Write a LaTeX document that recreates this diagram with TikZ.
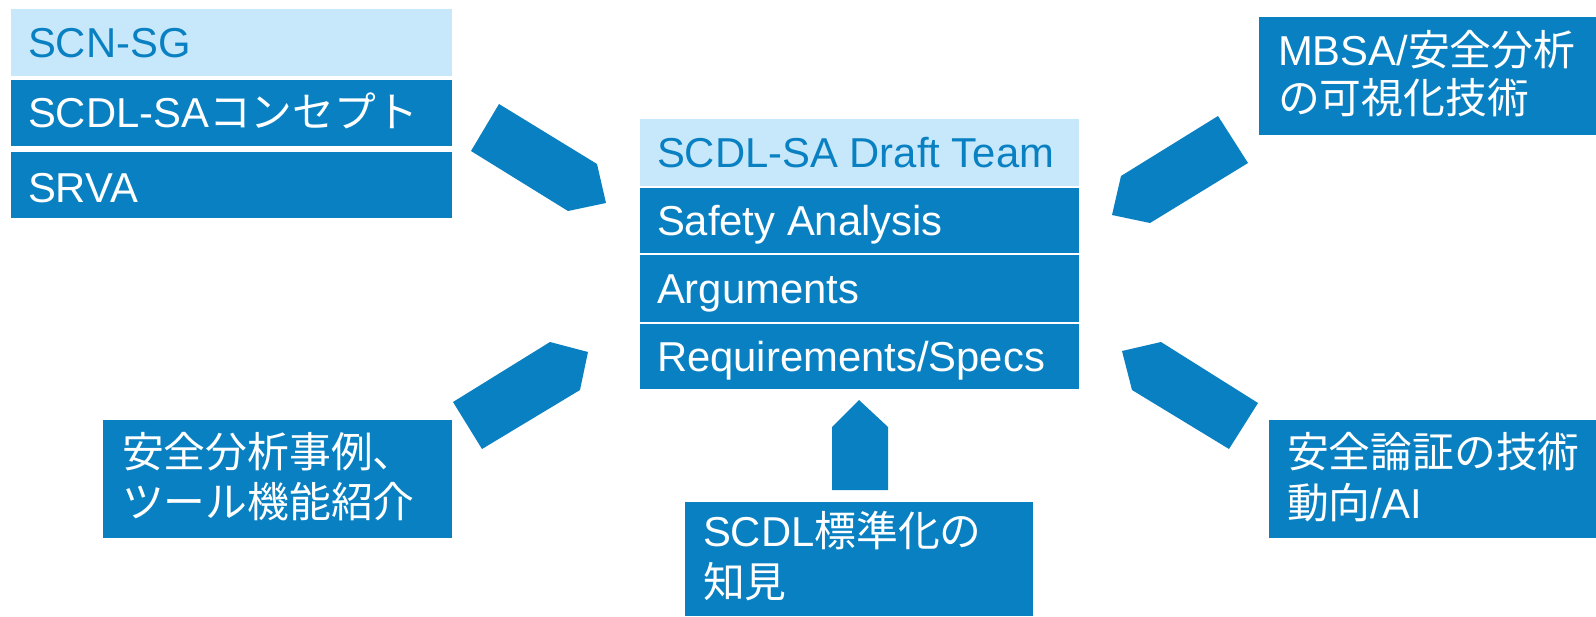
\documentclass[tikz,border=0pt]{standalone}
\usepackage{fontspec}
\setmainfont{Liberation Sans}
\newfontfamily\jp{Noto Sans CJK JP}
\definecolor{dblue}{RGB}{8,128,194}
\definecolor{lblue}{RGB}{198,232,250}
\begin{document}
\begin{tikzpicture}[x=1pt,y=-1pt,
  every node/.style={inner sep=0pt, outer sep=0pt},
  bar/.style={fill=dblue, anchor=north west},
  head/.style={fill=lblue, anchor=north west},
  txt/.style={anchor=base west, font=\fontsize{41.8}{50}\selectfont, text=white},
  htxt/.style={txt, text=dblue},
  blockarrow/.style={fill=dblue}]
\useasboundingbox (0,0) rectangle (1596,616);

% left stack
\node[head, minimum width=441pt, minimum height=67pt] (l1) at (11,9) {};
\node[bar,  minimum width=441pt, minimum height=66pt] (l2) at (11,80) {};
\node[bar,  minimum width=441pt, minimum height=66pt] (l3) at (11,152) {};
\node[htxt] (l1t) at (28,57)  {SCN-SG};
\node[txt]  (l2t) at (28,127) {SCDL-SA{\jp コンセプト}};
\node[txt]  (l3t) at (28,202) {SRVA};

% central stack
\node[head, minimum width=439pt, minimum height=67pt] (c1) at (640,119) {};
\node[bar,  minimum width=439pt, minimum height=65pt] (c2) at (640,188) {};
\node[bar,  minimum width=439pt, minimum height=67pt] (c3) at (640,255) {};
\node[bar,  minimum width=439pt, minimum height=65pt] (c4) at (640,324) {};
\node[htxt] (c1t) at (657,167) {SCDL-SA Draft Team};
\node[txt]  (c2t) at (657,235) {Safety Analysis};
\node[txt]  (c3t) at (657,303) {Arguments};
\node[txt]  (c4t) at (657,371) {Requirements/Specs};

% surrounding topic boxes
\node[bar, minimum width=337pt, minimum height=118pt] (tr) at (1259,17) {};
\node[txt] (tr1) at (1278,65)  {MBSA/{\jp 安全分析}};
\node[txt] (tr2) at (1278,113) {\jp の可視化技術};

\node[bar, minimum width=349pt, minimum height=118pt] (bl) at (103,420) {};
\node[txt] (bl1) at (122,467) {\jp 安全分析事例、};
\node[txt] (bl2) at (122,517) {\jp ツール機能紹介};

\node[bar, minimum width=327pt, minimum height=118pt] (br) at (1269,420) {};
\node[txt] (br1) at (1287,467) {\jp 安全論証の技術};
\node[txt] (br2) at (1287,518) {{\jp 動向}/AI};

\node[bar, minimum width=348pt, minimum height=114pt] (bc) at (685,502) {};
\node[txt] (bc1) at (703,546) {SCDL{\jp 標準化の}};
\node[txt] (bc2) at (703,597) {\jp 知見};

% block arrows pointing at the central stack
\fill[blockarrow] (499,104) -- (597,164) -- (606,203) -- (568,211) -- (471,151) -- cycle;
\fill[blockarrow] (1218,116) -- (1248,163) -- (1150,223) -- (1112,215) -- (1121,176) -- cycle;
\fill[blockarrow] (453,402) -- (550,342) -- (588,352) -- (580,390) -- (482,449) -- cycle;
\fill[blockarrow] (1258,403) -- (1161,342) -- (1122,351) -- (1132,390) -- (1229,449) -- cycle;
\fill[blockarrow] (832,490) -- (832,427) -- (859,400) -- (888,427) -- (888,490) -- cycle;
\end{tikzpicture}
\end{document}
